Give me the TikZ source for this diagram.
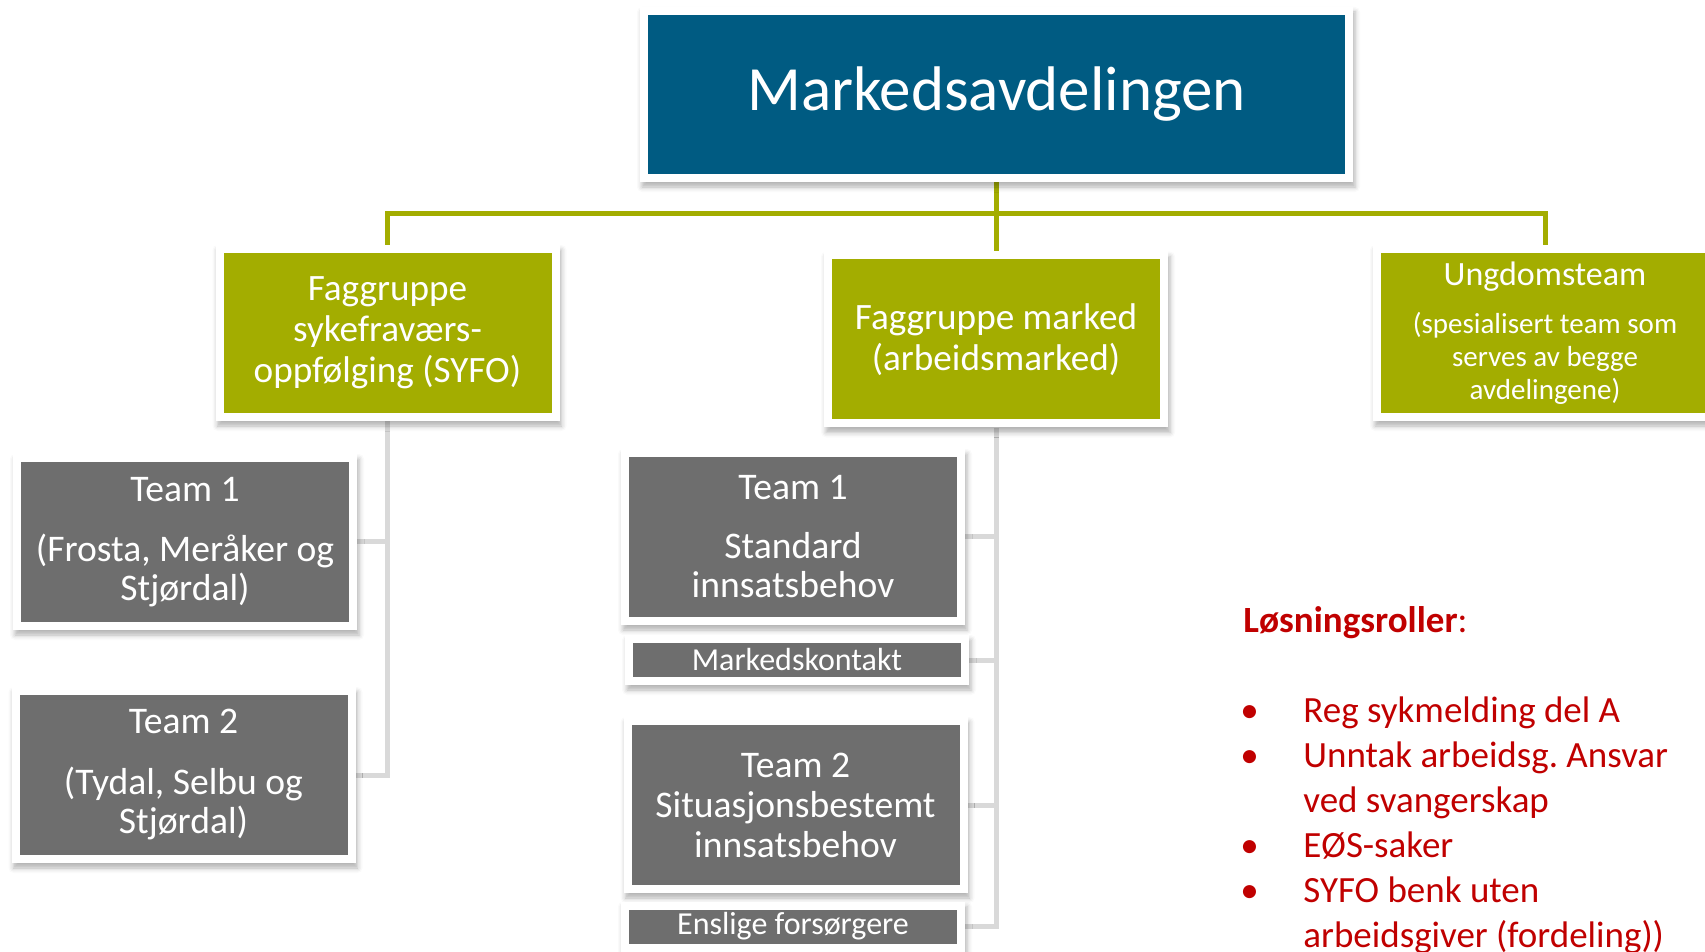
\documentclass[tikz,border=0pt]{standalone}
\usepackage{fontspec}
\setmainfont{Carlito}
\usetikzlibrary{backgrounds, calc, positioning, shadows, shadows.blur}
\definecolor{navblue}{RGB}{0,91,130}
\definecolor{navgreen}{RGB}{163,173,0}
\definecolor{navgrey}{RGB}{110,110,110}
\definecolor{linegrey}{RGB}{217,217,217}
\definecolor{navred}{RGB}{192,0,0}
\tikzset{
    orgbox/.style={fill=white, inner sep=0pt, align=center, text=white,
        minimum width=172pt, minimum height=88pt,
        blur shadow={shadow xshift=1pt, shadow yshift=-2.5pt, shadow blur radius=2.5pt, shadow opacity=30},
        path picture={
            \fill[#1] ([shift={(4pt,4pt)}]path picture bounding box.south west)
                rectangle ([shift={(-4pt,-4pt)}]path picture bounding box.north east);
        },
    },
    orgbox/.default={navgrey},
    thinbox/.style={orgbox, minimum height=25pt, font=\fontsize{16}{17}\selectfont},
    greenline/.style={draw=navgreen, line width=2.5pt},
    greyline/.style={draw=linegrey, line width=2.5pt},
}
\newcommand{\bul}{\makebox[30pt][l]{\hspace*{-1.5pt}\textbullet}}

\begin{document}
\begin{tikzpicture}[x=0.5pt, y=-0.5pt]
    \useasboundingbox (0,0) rectangle (1705,952);
    % avdeling og faggrupper
    \node[orgbox=navblue, minimum width=356.5pt, minimum height=87.5pt, font=\fontsize{31.5}{38}\selectfont] (top) at (996.5,94.5) {Markedsavdelingen};
    \node[orgbox=navgreen, font=\fontsize{18.6}{20.5}\selectfont] (syfo) at (387.5,333) {Faggruppe\\sykefraværs-\\oppfølging (SYFO)};
    \node[orgbox=navgreen, font=\fontsize{18.6}{20.5}\selectfont] (marked) at (996,339.5) {Faggruppe marked\\(arbeidsmarked)};
    \node[orgbox=navgreen, font=\fontsize{14.5}{16.5}\selectfont] (ungdom) at (1545,333) {{\fontsize{17}{17}\selectfont Ungdomsteam}\\[7.5pt](spesialisert team som\\serves av begge\\avdelingene)};
    % team
    \node[orgbox, font=\fontsize{18.8}{19.5}\selectfont] (lteam1) at (185,542) {Team 1\\[10.5pt](Frosta, Meråker og\\Stjørdal)};
    \node[orgbox, font=\fontsize{18.8}{19.5}\selectfont] (lteam2) at (183.5,775) {Team 2\\[11pt](Tydal, Selbu og\\Stjørdal)};
    \node[orgbox, font=\fontsize{18.8}{19.5}\selectfont] (mteam1) at (793,537) {Team 1\\[10pt]Standard\\innsatsbehov};
    \node[thinbox] (kontakt) at (797,660) {Markedskontakt};
    \node[orgbox, font=\fontsize{18.8}{20}\selectfont] (mteam2) at (795.5,805) {Team 2\\Situasjonsbestemt\\innsatsbehov};
    \node[thinbox] (enslige) at (793,926.5) {Enslige forsørgere};
    % roller
    \node[anchor=base west, align=left, text=navred, inner sep=0pt, font=\fontsize{18.5}{22.5}\selectfont\frenchspacing] (roles) at (1243,947) {\textbf{Løsningsroller}:\\[22.5pt]\bul Reg sykmelding del A\\\bul Unntak arbeidsg. Ansvar\\\hspace*{30pt}ved svangerskap\\\bul EØS-saker\\\bul SYFO benk uten\\\hspace*{30pt}arbeidsgiver (fordeling))};
    \begin{scope}[on background layer]
        \coordinate (bus) at (996,214);
        \draw[greenline] (top.south) -- (top.south |- marked.north);
        \draw[greenline] (syfo.north) |- (bus) -| (ungdom.north);
        \draw[greyline] (syfo.south) |- (lteam2.east);
        \draw[greyline] (syfo.south |- lteam1.east) -- (lteam1.east);
        \draw[greyline] (marked.south) |- (enslige.east);
        \foreach \n in {mteam1, kontakt, mteam2}
            \draw[greyline] (marked.south |- \n.east) -- (\n.east);
    \end{scope}
\end{tikzpicture}
\end{document}
